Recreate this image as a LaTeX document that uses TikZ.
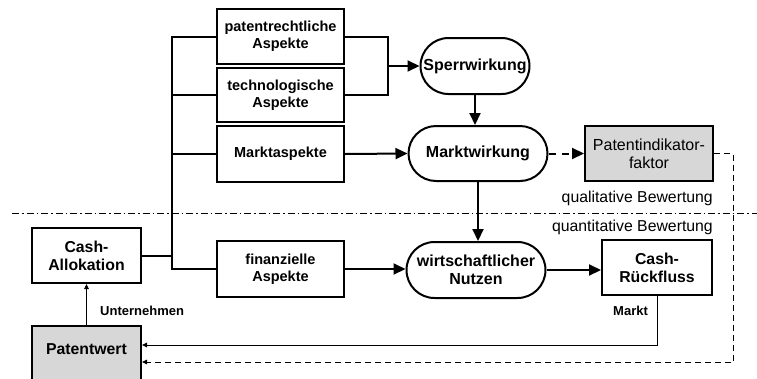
\documentclass[tikz,border=0pt]{standalone}
\usepackage{fontspec}
\setmainfont{Liberation Sans}
\usetikzlibrary{arrows.meta,shapes.misc,calc}
\definecolor{boxgray}{RGB}{215,215,215}
\tikzset{
  x=1pt,y=-1pt,
  thickline/.style={line width=2pt},
  thinline/.style={line width=0.9pt},
  bigtip/.style={-{Triangle[length=12pt,width=11pt]}},
  smalltip/.style={-{Triangle[length=5pt,width=4.5pt]}},
  aspbox/.style={draw,thickline,minimum width=127pt,inner sep=0pt,align=center,
    font=\fontsize{14.5}{17}\selectfont\bfseries},
  valbox/.style={draw,thickline,inner sep=0pt,align=center,
    font=\fontsize{15.8}{18}\selectfont\bfseries},
  roundbox/.style={draw,thickline,rounded rectangle,inner sep=0pt,align=center,
    font=\fontsize{16}{18}\selectfont\bfseries},
  labeltext/.style={inner sep=0pt,font=\fontsize{15.8}{18}\selectfont},
  smalllabel/.style={inner sep=0pt,font=\fontsize{13}{15}\selectfont\bfseries},
}
\begin{document}
\begin{tikzpicture}
\useasboundingbox (0,0) rectangle (757,378);
\clip (0,0) rectangle (757,378);
% aspect boxes
\node[aspbox,minimum height=55pt] (patent) at (280.5,36.5) {patentrechtliche\\Aspekte};
\node[aspbox,minimum height=54pt] (tech) at (280.5,95) {technologische\\Aspekte};
\node[aspbox,minimum height=56pt] (markta) at (280.5,154) {Marktaspekte};
\node[aspbox,minimum height=56pt] (finanz) at (280.5,269) {finanzielle\\Aspekte};
% rounded nodes
\node[roundbox,minimum width=109pt,minimum height=56pt] (sperr) at (475,66) {Sperrwirkung};
\node[roundbox,minimum width=139pt,minimum height=55pt] (markt) at (478,153.5) {Marktwirkung};
\node[roundbox,minimum width=139pt,minimum height=56pt] (wn) at (476,270) {wirtschaftlicher\\Nutzen};
% other boxes
\node[draw,thickline,fill=boxgray,minimum width=128pt,minimum height=55pt,inner sep=0pt,align=center,
  font=\fontsize{16}{18}\selectfont] (indik) at (649,153.5) {Patentindikator-\\faktor};
\node[valbox,minimum width=109pt,minimum height=55pt] (casha) at (86.5,255.5) {Cash-\\Allokation};
\node[valbox,minimum width=110pt,minimum height=55pt] (cashr) at (657,267.5) {Cash-\\Rückfluss};
\node[draw,thickline,fill=boxgray,minimum width=109pt,minimum height=70pt,inner sep=0pt,anchor=north] (pw) at (86.5,325) {};
\node[valbox,draw=none] (pwtext) at (86.5,349) {Patentwert};
% separator
\draw[thinline,dash pattern=on 7pt off 3pt on 1.5pt off 3pt] (12,213) -- (757,213);
\node[labeltext,anchor=east] (qual) at (713,198) {qualitative Bewertung};
\node[labeltext,anchor=east] (quant) at (713,227) {quantitative Bewertung};
% bus on the left
\draw[thickline] (patent.west) -- ++(-44,0) coordinate (bus) |- (finanz.west);
\draw[thickline] (tech.west) -- (tech.west -| bus);
\draw[thickline] (markta.west) -- (markta.west -| bus);
\draw[thickline] (casha.east) -- (casha.east -| bus);
% junction to Sperrwirkung
\draw[thickline] (patent.east) -- ++(43,0) coordinate (jt) |- (tech.east);
\draw[thickline,bigtip] (jt |- sperr.west) -- (sperr.west);
% main arrows
\draw[thickline,bigtip] (sperr.south) -- (sperr.south |- markt.north);
\draw[thickline,bigtip] (markta.east) -- (markt.west);
\draw[thickline,bigtip,dash pattern=on 7pt off 6pt] (markt.east) -- (indik.west);
\draw[thickline,bigtip] (markt.south) -- (markt.south |- wn.north);
\draw[thickline,bigtip] (finanz.east) -- (finanz.east -| wn.west);
\draw[thickline,bigtip] (wn.east) -- (wn.east -| cashr.west);
% feedback lines
\draw[thinline,smalltip] (cashr.south) |- ($(pw.north east)+(0,20)$);
\draw[thinline,smalltip,dash pattern=on 6pt off 4pt] (indik.east) -- ++(19,0) |- ($(pw.north east)+(0,37)$);
\draw[thinline,smalltip] (pw.north -| casha.south) -- (casha.south);
% labels
\node[smalllabel,anchor=west] (unt) at (100,311) {Unternehmen};
\node[smalllabel,anchor=west] (markttext) at (613,311) {Markt};
\end{tikzpicture}
\end{document}
